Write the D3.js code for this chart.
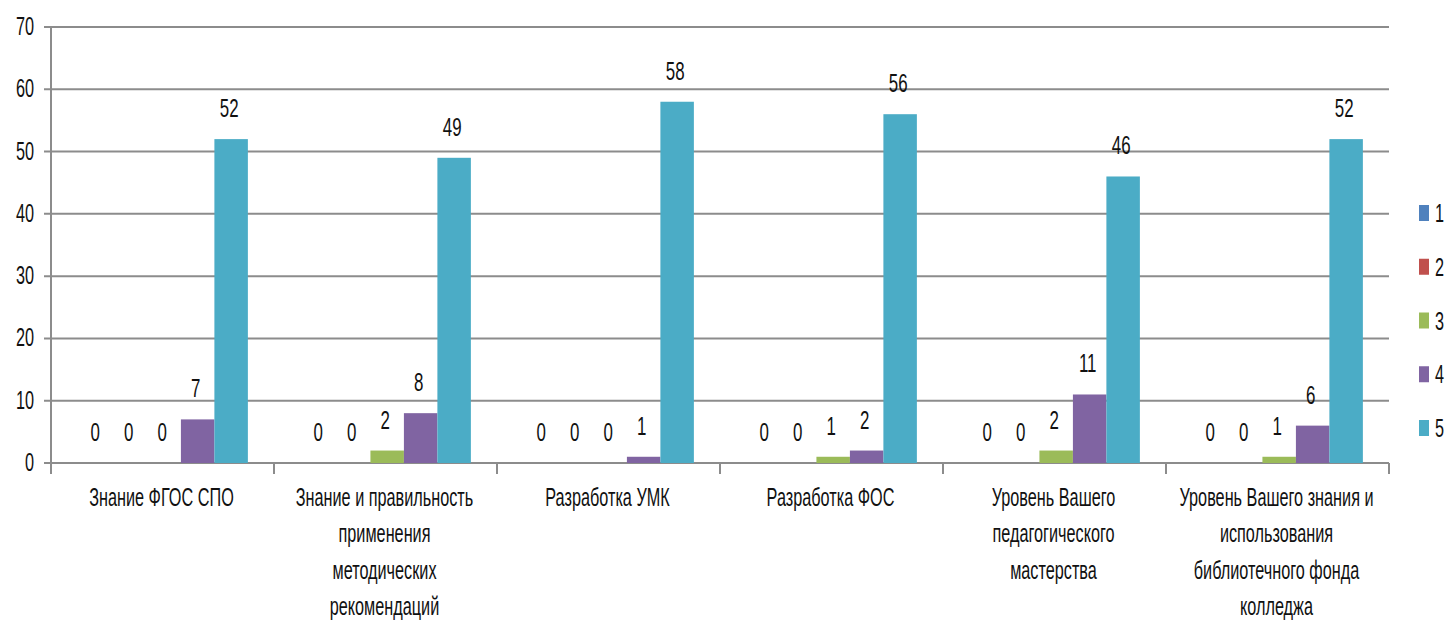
<!DOCTYPE html>
<html>
<head>
<meta charset="utf-8">
<script src="https://cdn.jsdelivr.net/npm/d3@7"></script>
<style>
  body { margin: 0; background: #fff; }
  svg text { font-family: "Liberation Sans", Arial, sans-serif; fill: #111; }
</style>
</head>
<body>
<svg id="chart" width="1450" height="620"></svg>
<script>
  // categories (line breaks as in the picture)
  const categories = [
    'Знание ФГОС СПО',
    'Знание и правильность\nприменения\nметодических\nрекомендаций',
    'Разработка УМК',
    'Разработка ФОС',
    'Уровень Вашего\nпедагогического\nмастерства',
    'Уровень Вашего знания и\nиспользования\nбиблиотечного фонда\nколледжа'
  ];
  const seriesNames = ['1', '2', '3', '4', '5'];
  const s1 = [0, 0, 0, 0, 0, 0];
  const s2 = [0, 0, 0, 0, 0, 0];
  const s3 = [0, 2, 0, 1, 2, 1];
  const s4 = [7, 8, 1, 2, 11, 6];
  const s5 = [52, 49, 58, 56, 46, 52];
  const colors = ['#4f81bd', '#c0504d', '#9bbb59', '#8064a2', '#4bacc6'];
  const yTicks = [0, 10, 20, 30, 40, 50, 60, 70];

  const series = [s1, s2, s3, s4, s5];
  const svg = d3.select('#chart');
  const m = { left: 51, right: 1389, top: 27, bottom: 463 };
  const FS = 25, SX = 0.65;             // tall, condensed text like the source
  const place = (x, yy) => `translate(${x},${yy}) scale(${SX},1)`;

  const x0 = d3.scaleBand().domain(d3.range(categories.length)).range([m.left, m.right]);
  const x1 = d3.scaleBand().domain(d3.range(series.length))
    .range([0, x0.bandwidth()]).paddingOuter(0.83).paddingInner(0).align(0.53);
  const y = d3.scaleLinear().domain([0, 70]).range([m.bottom, m.top]);

  const grid = '#8c8c8c';

  // gridlines + y tick marks
  svg.append('g').selectAll('line')
    .data(yTicks)
    .join('line')
    .attr('x1', m.left - 7).attr('x2', m.right)
    .attr('y1', (d) => y(d)).attr('y2', (d) => y(d))
    .attr('stroke', grid).attr('stroke-width', 2);

  svg.append('g').selectAll('text')
    .data(yTicks)
    .join('text')
    .attr('transform', (d) => place(34, y(d) + 8))
    .attr('text-anchor', 'end')
    .attr('font-size', FS)
    .text((d) => d);

  // y axis line
  svg.append('line')
    .attr('x1', m.left).attr('x2', m.left).attr('y1', m.top).attr('y2', m.bottom + 11)
    .attr('stroke', grid).attr('stroke-width', 2);

  // category ticks
  svg.append('g').selectAll('line')
    .data(d3.range(categories.length + 1))
    .join('line')
    .attr('x1', (i) => m.left + i * x0.step()).attr('x2', (i) => m.left + i * x0.step())
    .attr('y1', m.bottom).attr('y2', m.bottom + 11)
    .attr('stroke', grid).attr('stroke-width', 2);

  // bars
  const groups = svg.append('g').selectAll('g')
    .data(categories.map((c, i) => i))
    .join('g')
    .attr('transform', (i) => `translate(${x0(i)},0)`);

  groups.selectAll('rect')
    .data((i) => series.map((s, k) => ({ k, v: s[i] })))
    .join('rect')
    .attr('x', (d) => x1(d.k))
    .attr('width', x1.bandwidth())
    .attr('y', (d) => y(d.v))
    .attr('height', (d) => m.bottom - y(d.v))
    .attr('fill', (d) => colors[d.k]);

  groups.selectAll('text')
    .data((i) => series.map((s, k) => ({ k, v: s[i] })))
    .join('text')
    .attr('transform', (d) => place(x1(d.k) + x1.bandwidth() / 2 - 2, y(d.v) - 22))
    .attr('text-anchor', 'middle')
    .attr('font-size', FS + 1)
    .text((d) => d.v);

  // category labels
  const labels = svg.append('g').selectAll('text')
    .data(categories)
    .join('text')
    .attr('text-anchor', 'middle')
    .attr('font-size', FS)
    .attr('transform', (d, i) => place(x0(i) + x0.bandwidth() / 2 - 1, 506));
  labels.selectAll('tspan')
    .data((d) => d.split('\n'))
    .join('tspan')
    .attr('x', 0)
    .attr('dy', (d, j) => (j === 0 ? 0 : 36.5))
    .text((d) => d);

  // legend
  const legY = d3.scalePoint().domain(seriesNames).range([213, 428]);
  const leg = svg.append('g').selectAll('g')
    .data(seriesNames)
    .join('g')
    .attr('transform', (d) => `translate(1419,${legY(d)})`);
  leg.append('rect').attr('x', 0).attr('y', -8).attr('width', 10).attr('height', 16)
    .attr('fill', (d, i) => colors[i]);
  leg.append('text').attr('transform', place(16, 9)).attr('font-size', FS).text((d) => d);
</script>
</body>
</html>
